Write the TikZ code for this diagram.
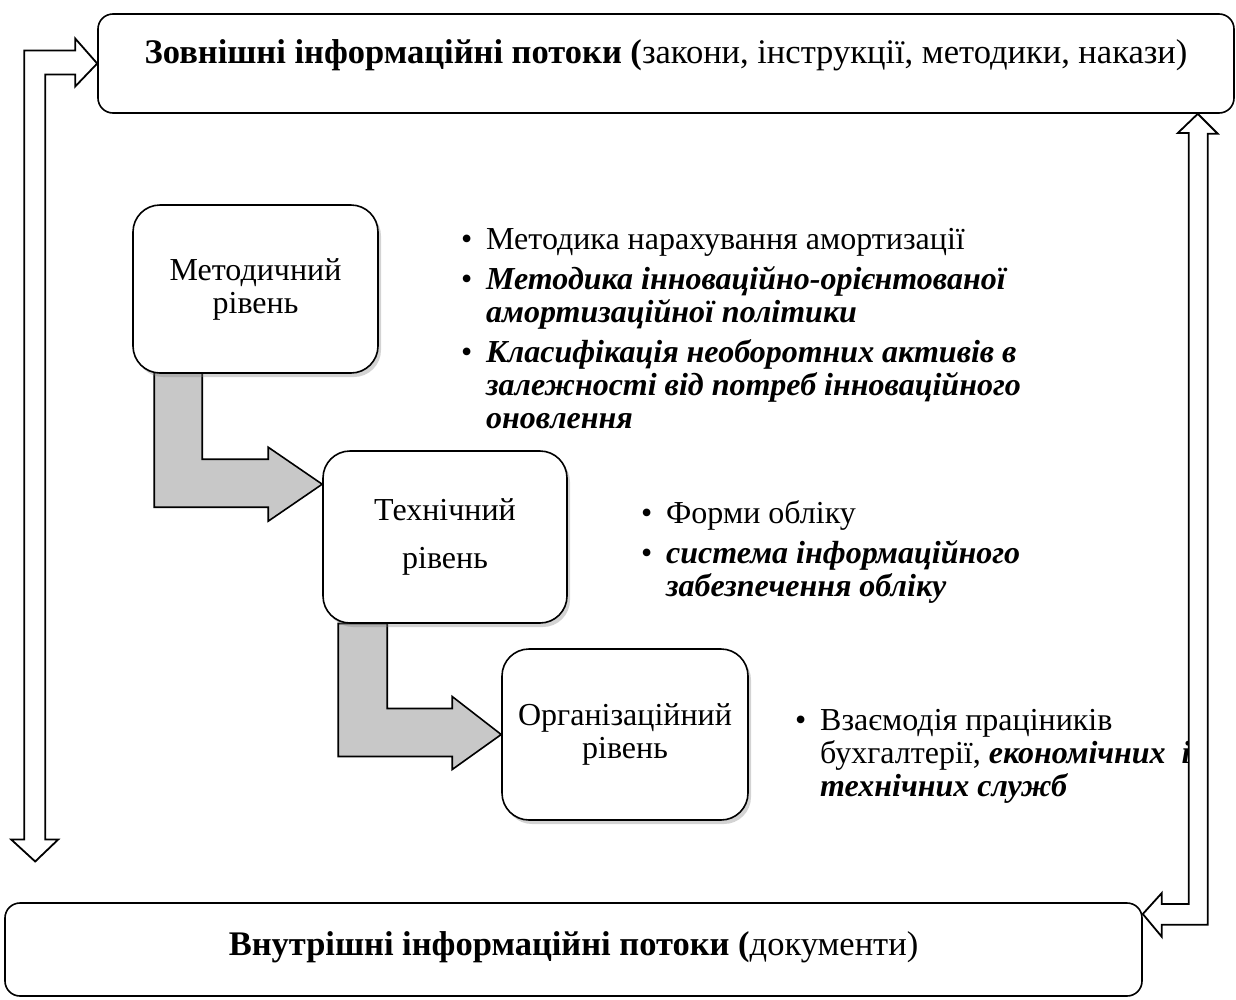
\documentclass[tikz,border=0pt]{standalone}
\usepackage{fontspec}
\setmainfont{Liberation Serif}
\usetikzlibrary{calc,shadows,backgrounds}
\definecolor{levelgray}{RGB}{200,200,200}
\newcommand{\lbul}{\makebox[25pt][l]{\textbullet}}
\newcommand{\lind}{\hspace*{25pt}}
\newcommand{\bi}[1]{\textbf{\textit{#1}}}

\begin{document}
\begin{tikzpicture}[x=1pt,y=-1pt,line join=miter,
    flowbox/.style={draw,line width=1.6pt,rounded corners=15pt,fill=white,inner sep=0pt,font=\fontsize{34.5}{38}\selectfont},
    level/.style={draw,line width=1.6pt,rounded corners=27pt,fill=white,align=center,inner sep=0pt,
      font=\fontsize{32}{33}\selectfont,drop shadow={opacity=0.35,shadow xshift=3pt,shadow yshift=-4pt}},
    blist/.style={anchor=north west,align=left,inner sep=0pt,font=\fontsize{32}{33}\selectfont},
    levelarrow/.style={draw,line width=1.6pt,fill=levelgray},
    hollowarrow/.style={draw,line width=1.8pt,fill=white}]
  \useasboundingbox (0,0) rectangle (1236,999);

  % levels
  \node[level,minimum width=245pt,minimum height=168pt] (met) at (255.5,289) {Методичний\\рівень};
  \node[level,minimum width=244pt,minimum height=172pt] (tech) at (445,537) {Технічний\\[15pt]рівень};
  \node[level,minimum width=246pt,minimum height=171pt] (org) at (625,734.5) {Організаційний\\рівень};

  % grey arrows between levels
  \begin{scope}[on background layer]
    \draw[levelarrow] ($(tech.north west)+(0,34)$) -- ++(-54,37) -- ++(0,-14) -- ++(-114,0)
      -- ++(0,-135) -- ++(48,0) -- ++(0,87) -- ++(66,0) -- ++(0,-12) -- cycle;
    \draw[levelarrow] (org.west) -- ++(-49,35) -- ++(0,-13) -- ++(-114,0)
      -- ++(0,-133) -- ++(49,0) -- ++(0,85) -- ++(65,0) -- ++(0,-12) -- cycle;
  \end{scope}

  % lists
  \node[blist] (l1) at (461,228) {\lbul Методика нарахування амортизації\\[7pt]
    \lbul\bi{Методика інноваційно-орієнтованої}\\
    \lind\bi{амортизаційної політики}\\[7pt]
    \lbul\bi{Класифікація необоротних активів в}\\
    \lind\bi{залежності від потреб інноваційного}\\
    \lind\bi{оновлення}};
  \node[blist] (l2) at (641,500) {\lbul Форми обліку\\[7pt]
    \lbul\bi{система інформаційного}\\
    \lind\bi{забезпечення обліку}};
  \node[blist] (l3) at (795,709) {\lbul Взаємодія праціників\\
    \lind бухгалтерії, \bi{економічних\ \ і}\\
    \lind\bi{технічних служб}};

  % information flows
  \node[flowbox,minimum width=1136pt,text height=49pt,text depth=50pt] (ext) at (666,63.5)
    {\textbf{Зовнішні інформаційні потоки (}закони, інструкції, методики, накази)};
  \node[flowbox,minimum width=1137pt,text height=52pt,text depth=41pt] (int) at (573.5,949.5)
    {\textbf{Внутрішні інформаційні потоки (}документи)};

  \draw[hollowarrow] (ext.west) -- ++(-22,23) -- ++(0,-12) -- ++(-30,0) -- ++(0,765) -- ++(13,0)
    -- ++(-23,22) -- ++(-24,-22) -- ++(13,0) -- ++(0,-789) -- ++(51,0) -- ++(0,-12) -- cycle;
  \draw[hollowarrow] ($(ext.south east)+(-37,0)$) -- ++(20,20) -- ++(-10,0) -- ++(0,791) -- ++(-46,0)
    -- ++(0,12) -- (int.north east |- 0,914) -- ++(19,-21) -- ++(0,11) -- ++(27,0) -- ++(0,-771)
    -- ++(-11,0) -- cycle;
\end{tikzpicture}
\end{document}
